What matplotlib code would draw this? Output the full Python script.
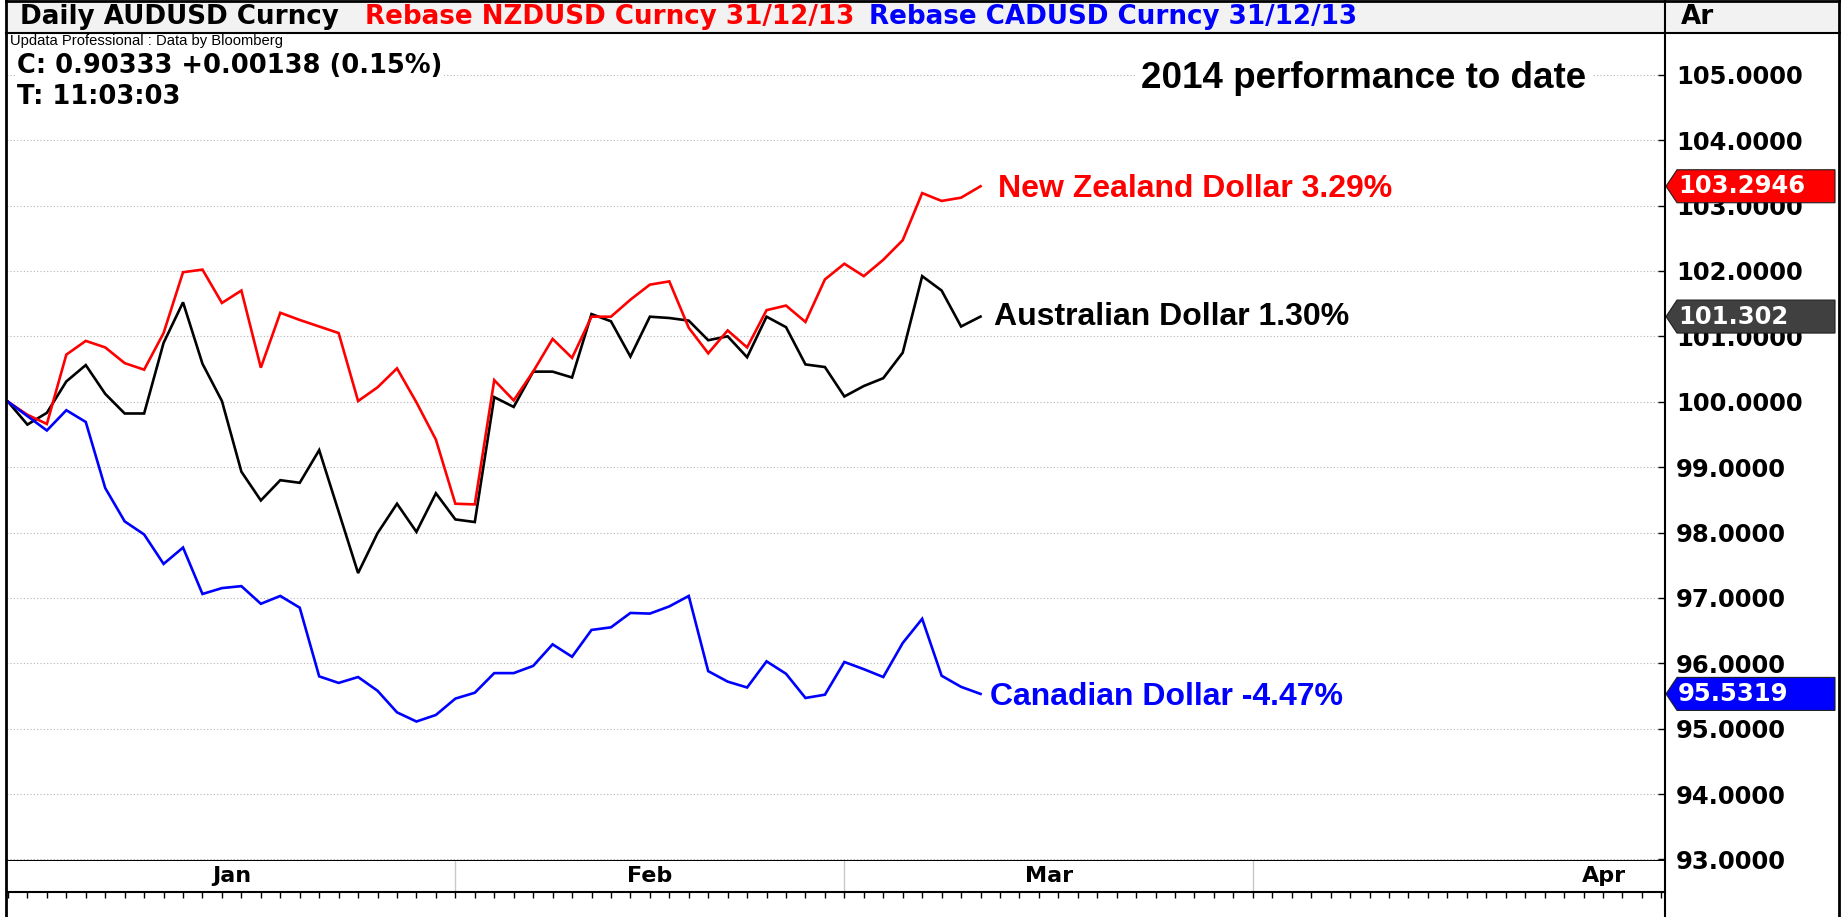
import numpy as np
import pandas as pd
import matplotlib
matplotlib.use('Agg')
import matplotlib.pyplot as plt
from matplotlib.patches import Rectangle, Polygon

W, H = 1841, 917

# trading days shown on the chart (data ends 12 Mar, axis runs to end of April)
days = pd.bdate_range('2014-01-01', '2014-03-12')
axis_days = pd.bdate_range('2014-01-01', '2014-04-30')

# rebased to 100 on 31/12/13
aud = [100.00, 99.65, 99.83, 100.31, 100.56, 100.12, 99.82, 99.82, 100.90, 101.52,
       100.58, 100.01, 98.93, 98.49, 98.80, 98.76, 99.26, 98.32, 97.38, 97.99,
       98.44, 98.01, 98.60, 98.20, 98.16, 100.07, 99.92, 100.46, 100.46, 100.37,
       101.34, 101.23, 100.69, 101.30, 101.28, 101.24, 100.94, 101.00, 100.68, 101.30,
       101.14, 100.57, 100.53, 100.08, 100.24, 100.36, 100.75, 101.92, 101.70, 101.15,
       101.302]
nzd = [100.00, 99.80, 99.66, 100.72, 100.93, 100.83, 100.59, 100.49, 101.05, 101.98,
       102.02, 101.51, 101.70, 100.52, 101.36, 101.25, 101.15, 101.05, 100.01, 100.22,
       100.51, 99.99, 99.42, 98.44, 98.43, 100.33, 100.02, 100.46, 100.96, 100.67,
       101.30, 101.30, 101.56, 101.79, 101.84, 101.13, 100.74, 101.09, 100.83, 101.40,
       101.47, 101.22, 101.87, 102.11, 101.92, 102.17, 102.47, 103.19, 103.07, 103.12,
       103.2946]
cad = [100.00, 99.78, 99.56, 99.87, 99.69, 98.68, 98.17, 97.97, 97.52, 97.77,
       97.06, 97.15, 97.18, 96.91, 97.03, 96.85, 95.80, 95.70, 95.79, 95.58,
       95.25, 95.11, 95.21, 95.46, 95.55, 95.85, 95.85, 95.96, 96.29, 96.10,
       96.51, 96.55, 96.77, 96.76, 96.87, 97.03, 95.88, 95.72, 95.63, 96.03,
       95.84, 95.47, 95.52, 96.02, 95.91, 95.79, 96.31, 96.68, 95.81, 95.64,
       95.5319]

series = [aud, nzd, cad]
colors = ['black', '#ff0000', '#0000ff']
tag_colors = ['#404040', '#ff0000', '#0000ff']
tag_labels = ['101.302', '103.2946', '95.5319']
names = ['Australian Dollar 1.30%', 'New Zealand Dollar 3.29%', 'Canadian Dollar -4.47%']
name_pos = [(994, 317), (998, 189), (990, 697)]
y_ticks = list(range(93, 106))

header_parts = [('Daily AUDUSD Curncy', 'black', 20),
                ('Rebase NZDUSD Curncy 31/12/13', '#ff0000', 365),
                ('Rebase CADUSD Curncy 31/12/13', '#0000ff', 869)]


def box(left, top, right, bottom):
    # pixel box (top-left origin) -> figure fraction
    return [left / W, 1 - bottom / H, (right - left) / W, (bottom - top) / H]


fig = plt.figure(figsize=(W / 100, H / 100), dpi=100)
xlim = (-0.41, 85.19)
LX = 6.5  # left frame line

# main price panel
ax = fig.add_axes(box(0, 33, 1665, 861))
x = np.arange(len(days))
for vals, c in zip(series, colors):
    ax.plot(x, vals, color=c, lw=1.9, solid_joinstyle='miter')
ax.set_xlim(*xlim)
ax.set_ylim(92.977, 105.638)
ax.yaxis.tick_right()
ax.set_yticks(y_ticks)
ax.set_yticklabels([f'{v:.4f}' for v in y_ticks], fontfamily='DejaVu Sans',
                   fontweight='bold', fontsize=17.5)
ax.tick_params(axis='y', direction='in', length=5, width=1, pad=8)
ax.set_xticks([])
ax.grid(axis='y', color='#b4b4b4', linestyle=(0, (1, 2)), lw=0.8)
for s in ['top', 'left', 'right']:
    ax.spines[s].set_visible(False)
ax.spines['bottom'].set_linewidth(1.5)

# date band
axd = fig.add_axes(box(0, 861, 1665, 892))
axd.set_xlim(*xlim)
axd.set_ylim(0, 1)
axd.set_yticks([])
axd.set_xticks(np.arange(len(axis_days)))
axd.tick_params(axis='x', direction='out', length=4, width=1, labelbottom=False)
for s in ['top', 'left', 'right']:
    axd.spines[s].set_visible(False)
axd.spines['bottom'].set_linewidth(1.5)
months = axis_days.month
starts = [0] + [i for i in range(1, len(axis_days)) if months[i] != months[i - 1]]
ends = starts[1:] + [len(axis_days)]
for k, (s, e) in enumerate(zip(starts, ends)):
    if s > 0:
        axd.axvline(s, color='#c8c8c8', lw=1)
    lab = axis_days[s].strftime('%b')
    if k == len(starts) - 1:
        axd.text(xlim[1] - 2, 0.5, lab, ha='right', va='center', fontsize=16,
                 fontweight='bold', fontfamily='DejaVu Sans')
    else:
        axd.text((s + e) / 2, 0.5, lab, ha='center', va='center', fontsize=16,
                 fontweight='bold', fontfamily='DejaVu Sans')

# overlay in pixel coordinates for frame, header, notes and value tags
ov = fig.add_axes([0, 0, 1, 1])
ov.set_xlim(0, W)
ov.set_ylim(H, 0)
ov.axis('off')
ov.patch.set_visible(False)
ov.set_zorder(5)

# white margin left of the frame
ov.add_patch(Rectangle((0, 0), LX, H, facecolor='white', edgecolor='none'))
ov.add_patch(Rectangle((LX, 0), W - LX, 33, facecolor='#f2f2f2', edgecolor='none'))
ov.plot([LX, W], [33, 33], color='black', lw=1.5)
ov.plot([LX, W], [1, 1], color='black', lw=2)
ov.plot([LX, LX], [0, H], color='black', lw=2)
ov.plot([W - 2, W - 2], [0, H], color='black', lw=2)
ov.plot([1665, 1665], [0, H], color='black', lw=1.5)

for txt, c, px in header_parts:
    ov.text(px, 17, txt, color=c, ha='left', va='center', fontsize=18.8,
            fontweight='bold', fontfamily='DejaVu Sans')
ov.text(1681, 17, 'Ar', ha='left', va='center', fontsize=18.8,
        fontweight='bold', fontfamily='DejaVu Sans')

ov.text(10, 41, 'Updata Professional : Data by Bloomberg', ha='left', va='center',
        fontsize=10.6, fontfamily='Liberation Sans')
ov.text(17, 66, 'C: 0.90333 +0.00138 (0.15%)', ha='left', va='center', fontsize=18.5,
        fontweight='bold', fontfamily='DejaVu Sans',
        bbox=dict(facecolor='white', edgecolor='none', pad=1))
ov.text(17, 97, 'T: 11:03:03', ha='left', va='center', fontsize=18.5,
        fontweight='bold', fontfamily='DejaVu Sans')
ov.text(1364, 79, '2014 performance to date', ha='center', va='center', fontsize=26.5,
        fontweight='bold', fontfamily='Liberation Sans',
        bbox=dict(facecolor='white', edgecolor='none', pad=4))

for name, (px, py), c in zip(names, name_pos, colors):
    ov.text(px, py, name, color=c, ha='left', va='center', fontsize=23,
            fontweight='bold', fontfamily='Liberation Sans')

# last-value tags on the price axis
for vals, c, lab in zip(series, tag_colors, tag_labels):
    yc = H - ax.transData.transform((0, vals[-1]))[1]
    pts = [(1666, yc), (1677, yc - 16.5), (1835, yc - 16.5), (1835, yc + 16.5), (1677, yc + 16.5)]
    ov.add_patch(Polygon(pts, closed=True, facecolor=c, edgecolor='#202020', lw=0.8))
    ov.text(1678, yc, lab, color='white', ha='left', va='center', fontsize=17.5,
            fontweight='bold', fontfamily='DejaVu Sans')

fig.savefig('out.png', dpi=100)
